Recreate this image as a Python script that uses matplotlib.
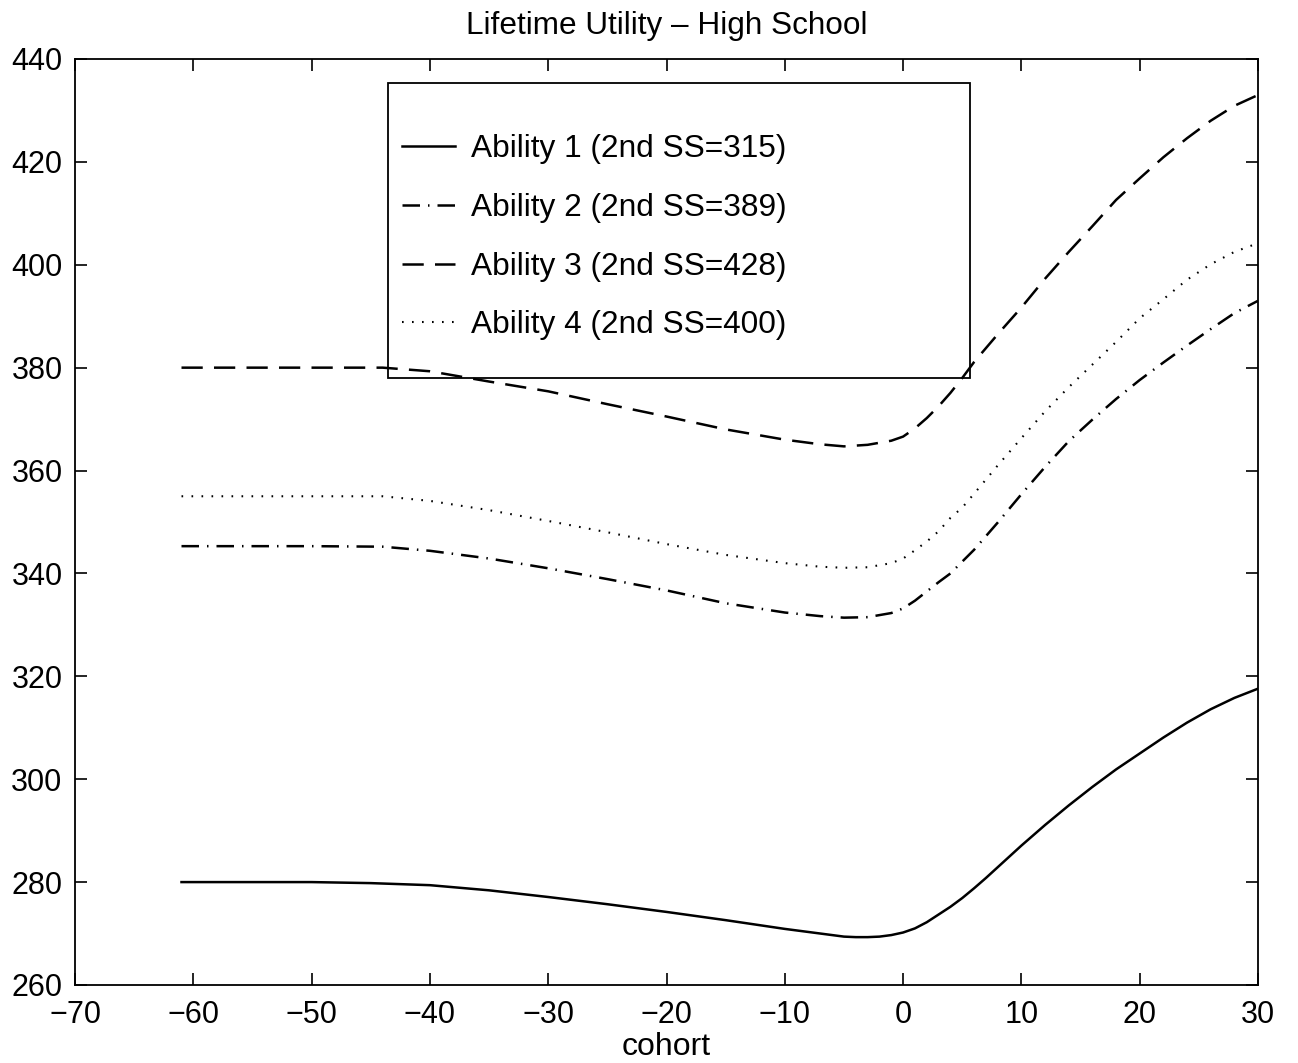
import matplotlib
matplotlib.use("Agg")
import matplotlib.pyplot as plt
from matplotlib.patches import Rectangle

plt.rcParams['font.family'] = ['Liberation Sans', 'DejaVu Sans']

# cohort grid and lifetime utility per ability type
x1 = [-61, -55, -50, -45, -40, -35, -30, -25, -20, -15, -10, -7, -5, -4, -3, -2, -1, 0, 1, 2, 3, 4, 5, 6,
      7, 8, 9, 10, 11, 12, 14, 16, 18, 20, 22, 24, 26, 28, 30]
y1 = [280, 280, 280, 279.8, 279.4, 278.4, 277.1, 275.7, 274.2, 272.6, 270.9, 270.0, 269.4, 269.3, 269.3,
      269.4, 269.7, 270.2, 271.0, 272.2, 273.7, 275.2, 276.9, 278.8, 280.8, 282.9, 285.0, 287.1, 289.1,
      291.1, 294.9, 298.5, 301.9, 305.0, 308.1, 311.0, 313.6, 315.8, 317.6]

x_grid = [-61, -50, -44, -40, -35, -30, -25, -20, -15, -10, -7, -5, -3, -1, 0, 1, 2, 3, 4, 5, 6, 8, 10,
          12, 14, 16, 18, 20, 22, 24, 26, 28, 30]
y2 = [345.3, 345.3, 345.2, 344.4, 342.9, 341.0, 338.9, 336.7, 334.2, 332.4, 331.7, 331.4, 331.5, 332.3,
      333.2, 334.7, 336.5, 338.3, 340.0, 342.3, 344.6, 349.9, 355.4, 360.7, 365.7, 369.9, 373.9, 377.6,
      381.0, 384.3, 387.5, 390.6, 393.0]
y3 = [380, 380, 380, 379.3, 377.3, 375.4, 372.9, 370.5, 368.0, 366.0, 365.1, 364.7, 365.0, 365.8,
      366.6, 368.2, 370.2, 372.5, 375.1, 378.0, 381.1, 386.5, 391.7, 397.3, 402.5, 407.5, 412.6, 416.8,
      420.9, 424.6, 428.0, 430.9, 433.0]
y4 = [355, 355, 355, 354.1, 352.3, 350.2, 348.0, 345.7, 343.6, 342.0, 341.3, 341.1, 341.2, 342.0,
      342.9, 344.5, 346.2, 348.2, 350.8, 352.8, 355.5, 361.0, 366.3, 371.5, 376.2, 380.6, 385.0, 389.6,
      393.3, 397.1, 400.1, 402.5, 404.2]

labels = ['Ability 1 (2nd SS=315)', 'Ability 2 (2nd SS=389)',
          'Ability 3 (2nd SS=428)', 'Ability 4 (2nd SS=400)']
xticks = [-70, -60, -50, -40, -30, -20, -10, 0, 10, 20, 30]
yticks = [260, 280, 300, 320, 340, 360, 380, 400, 420, 440]

fig = plt.figure(figsize=(12.98, 10.63), dpi=100)
ax = fig.add_axes([0.0578, 0.0734, 0.9114, 0.8711])

ax.plot(x1, y1, color='black', lw=1.8, linestyle='-', label=labels[0])
ax.plot(x_grid, y2, color='black', lw=1.8, linestyle=(0, (7, 3.2, 0.6, 3.2)), label=labels[1])
ax.plot(x_grid, y3, color='black', lw=1.8, linestyle=(0, (8.5, 4.5)), label=labels[2])
ax.plot(x_grid, y4, color='black', lw=1.5, linestyle=(0, (0.8, 4)), label=labels[3])

ax.set_xlim(-70, 30)
ax.set_ylim(260, 440)
ax.set_xticks(xticks)
ax.set_yticks(yticks)
ax.set_xticklabels([str(t).replace('-', '\u2212') for t in xticks])
ax.tick_params(direction='in', top=True, right=True, length=8.6, width=1.2,
               labelsize=22, pad=9)
ax.tick_params(axis='x', pad=11)
for s in ax.spines.values():
    s.set_linewidth(1.3)

ax.set_title('Lifetime Utility \u2013 High School', fontsize=22.7, pad=18)
ax.set_xlabel('cohort', fontsize=23, labelpad=1)

ax.legend(loc='upper left', bbox_to_anchor=(0.2764, 0.919), frameon=False,
          fontsize=22.8, borderpad=0, borderaxespad=0, handlelength=1.67,
          handletextpad=0.5, labelspacing=0.91)
ax.add_patch(Rectangle((0.2646, 0.6555), 0.492, 0.3186, transform=ax.transAxes,
                       fill=False, edgecolor='black', lw=1.3))

fig.savefig('out.png', dpi=100)
